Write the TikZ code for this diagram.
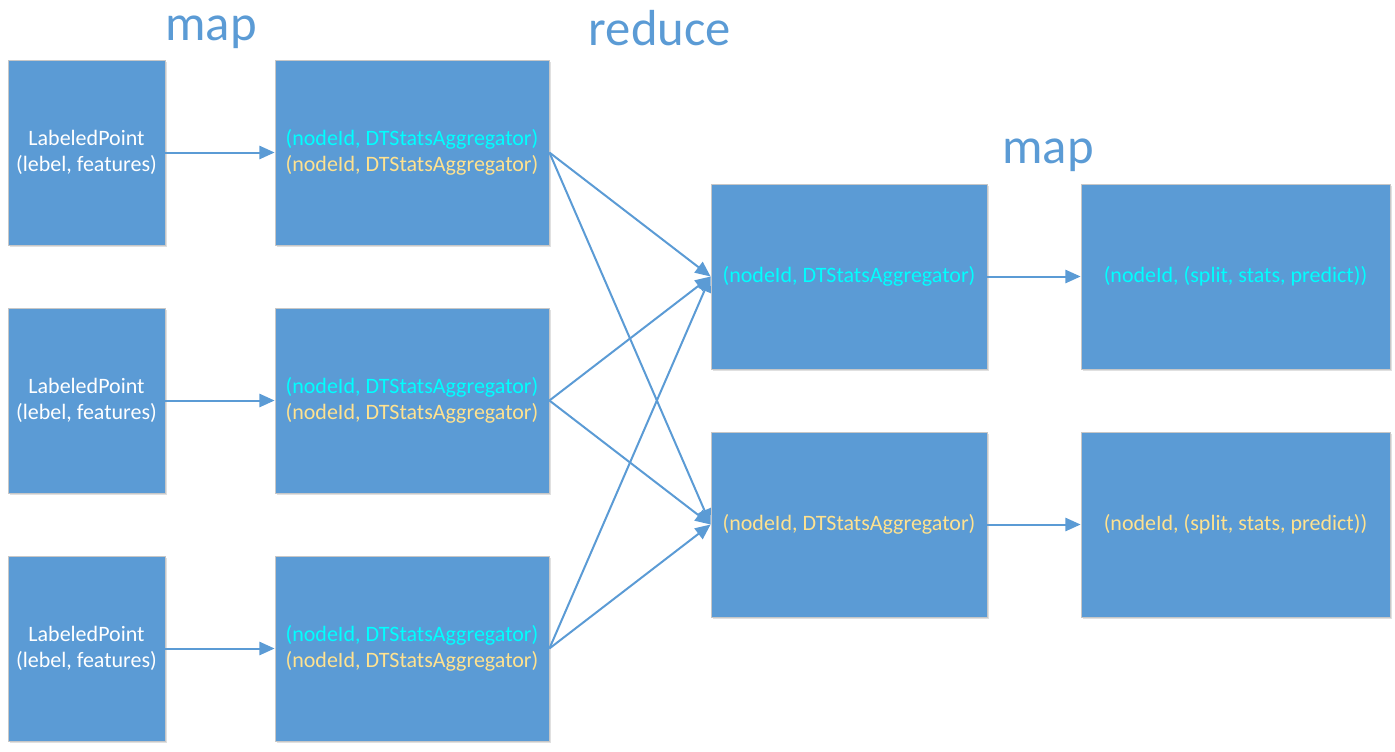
\documentclass[tikz,border=0pt]{standalone}
\usepackage{fontspec}
\setmainfont{Carlito}
\usetikzlibrary{arrows.meta, positioning, shadows}
\definecolor{boxblue}{HTML}{5B9BD5}
\definecolor{keycyan}{HTML}{00FFFF}
\definecolor{keygold}{HTML}{FFE28F}

\begin{document}
\begin{tikzpicture}[
      x=0.75pt, y=-0.75pt,
      % Node styles
      block/.style={
          rectangle, fill=boxblue, draw=black!22, line width=0.6pt,
          minimum height=138.75pt, inner sep=0pt, align=center,
          text=white, font=\fontsize{16.5}{19.5}\selectfont,
          drop shadow={shadow xshift=1.2pt, shadow yshift=-1.2pt, opacity=0.12, fill=black},
        },
      point box/.style={block, minimum width=117.75pt},
      agg box/.style={block, minimum width=205.5pt},
      reduce box/.style={block, minimum width=207pt},
      result box/.style={block, minimum width=231.75pt},
      stage/.style={
          anchor=base, text=boxblue, font=\fontsize{38}{44}\selectfont,
        },
      % Edge/arrow style
      flow/.style={
          draw=boxblue, line width=1.5pt, -{Triangle[length=11.5pt, width=10pt]},
        },
    ]
    \useasboundingbox (0,0) rectangle (1395,751);

    % --- stage titles ---
    \node[stage] (map1) at (211,40) {map};
    \node[stage] (reduce) at (660,45) {reduce};
    \node[stage] (map2) at (1048,163) {map};

    % --- input points and aggregators per partition ---
    \foreach \i in {1,2,3} {
        \node[point box] (lp\i) at (86.5,{152.5+(\i-1)*248}) {LabeledPoint\\(lebel, features)};
        \node[agg box] (agg\i) at (412,{152.5+(\i-1)*248})
          {\textcolor{keycyan}{(nodeId, DTStatsAggregator)}\\
           \textcolor{keygold}{(nodeId, DTStatsAggregator)}};
      }

    % --- reduced aggregators ---
    \node[reduce box, text=keycyan] (red1) at (849,276.5) {(nodeId, DTStatsAggregator)};
    \node[reduce box, text=keygold, below=46.65pt of red1] (red2) {(nodeId, DTStatsAggregator)};

    % --- best splits ---
    \node[result box, text=keycyan] (res1) at (1235.5,276.5) {(nodeId, (split, stats, predict))};
    \node[result box, text=keygold, below=46.65pt of res1] (res2) {(nodeId, (split, stats, predict))};

    % --- arrows ---
    \foreach \i in {1,2,3} {
        \draw[flow] (lp\i) -- (agg\i);
        \draw[flow] (agg\i.east) -- (red1.west);
        \draw[flow] (agg\i.east) -- (red2.west);
      }
    \draw[flow] (red1) -- (res1);
    \draw[flow] (red2) -- (res2);

  \end{tikzpicture}
\end{document}
